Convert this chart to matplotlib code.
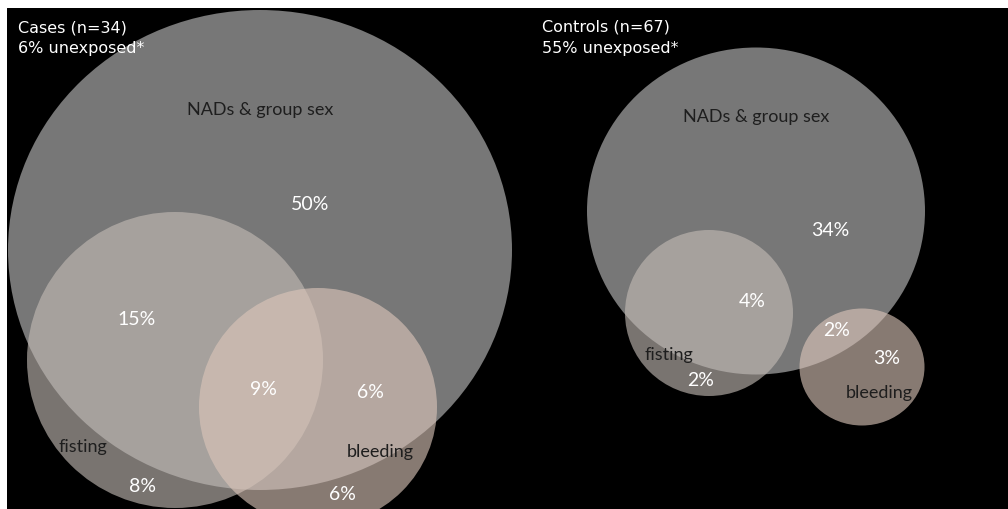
import matplotlib.pyplot as plt
from matplotlib.patches import Ellipse

# groups and exposure overlaps (percent of group)
groups = ["Cases (n=34)", "Controls (n=67)"]
unexposed = ["6% unexposed*", "55% unexposed*"]
set_names = ["NADs & group sex", "fisting", "bleeding"]

# region values: cases
cases_pct = {"nad": "50%", "nad_fist": "15%", "all": "9%",
             "nad_bleed": "6%", "fist": "8%", "bleed": "6%"}
# region values: controls
controls_pct = {"nad": "34%", "nad_fist": "4%", "nad_bleed": "2%",
                "bleed": "3%", "fist": "2%"}

# circle layout in pixel units (cx, cy, w, h)
cases_circ = [(260, 250, 504, 480), (175, 360, 296, 296), (318, 407, 238, 238)]
controls_circ = [(756, 211, 338, 327), (709, 313, 168, 166), (862, 367, 125, 117)]

fills = [("#777777", 1.0), ("#c4bcb6", 0.62), ("#dcc6ba", 0.62)]

W, H = 1008, 509
fig = plt.figure(figsize=(W / 100, H / 100), dpi=100, facecolor="white")
ax = fig.add_axes([7 / W, 0, 1 - 7 / W, 1 - 8 / H])
ax.set_facecolor("black")
ax.set_xlim(7, W)
ax.set_ylim(H, 8)
ax.set_axis_off()
ax.add_patch(plt.Rectangle((7, 8), W, H, color="black", zorder=0))

for circs in (cases_circ, controls_circ):
    for (cx, cy, w, h), (col, a) in zip(circs, fills):
        ax.add_patch(Ellipse((cx, cy), w, h, facecolor=col, alpha=a,
                             edgecolor="none", zorder=1))

title_font = dict(family="DejaVu Sans", fontsize=11.5, color="white",
                  ha="left", va="center")
ax.text(18, 28, groups[0], **title_font)
ax.text(18, 48, unexposed[0], **title_font)
ax.text(542, 27, groups[1], **title_font)
ax.text(542, 48, unexposed[1], **title_font)

lab = dict(family="Lato", fontsize=13, ha="center", va="center", zorder=3)
pct = dict(family="Lato", fontsize=14, ha="center", va="center", zorder=3,
           color="white")
dark = "#1e1e1e"

# cases labels
ax.text(260, 110, set_names[0], color=dark, **lab)
ax.text(83, 447, set_names[1], color=dark, **lab)
ax.text(380, 452, set_names[2], color=dark, **lab)
ax.text(310, 204, cases_pct["nad"], **pct)
ax.text(137, 320, cases_pct["nad_fist"], **pct)
ax.text(263, 390, cases_pct["all"], **pct)
ax.text(370, 393, cases_pct["nad_bleed"], **pct)
ax.text(142, 487, cases_pct["fist"], **pct)
ax.text(342, 495, cases_pct["bleed"], **pct)

# controls labels
ax.text(756, 117, set_names[0], color=dark, **lab)
ax.text(669, 355, set_names[1], color=dark, **lab)
ax.text(879, 393, set_names[2], color=dark, **lab)
ax.text(830, 231, controls_pct["nad"], **pct)
ax.text(752, 302, controls_pct["nad_fist"], **pct)
ax.text(837, 331, controls_pct["nad_bleed"], **pct)
ax.text(887, 359, controls_pct["bleed"], **pct)
ax.text(701, 381, controls_pct["fist"], **pct)

fig.savefig("out.png", dpi=100, facecolor="white")
